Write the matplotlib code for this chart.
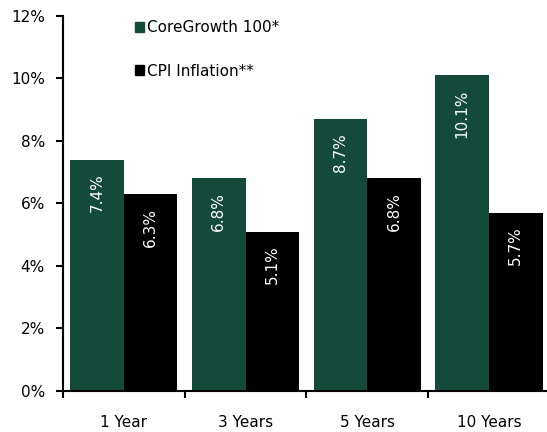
import matplotlib
matplotlib.use("Agg")
import matplotlib.pyplot as plt
from matplotlib.patches import Patch
import numpy as np

periods = ["1 Year", "3 Years", "5 Years", "10 Years"]
coregrowth = [7.4, 6.8, 8.7, 10.1]
cpi = [6.3, 5.1, 6.8, 5.7]
series_names = ["CoreGrowth 100*", "CPI Inflation**"]

green = "#134a3a"
black = "#000000"

plt.rcParams["font.family"] = "DejaVu Sans"

fig = plt.figure(figsize=(5.47, 4.32), dpi=100)
ax = fig.add_axes([0.1152, 0.095, 0.89, 0.868])

x = np.arange(len(periods))
w = 0.44
b1 = ax.bar(x - w / 2, coregrowth, w, color=green)
b2 = ax.bar(x + w / 2, cpi, w, color=black)

for bars, vals in ((b1, coregrowth), (b2, cpi)):
    for rect, v in zip(bars, vals):
        ax.annotate(f"{v:.1f}%", (rect.get_x() + rect.get_width() / 2, v),
                    xytext=(0, -10), textcoords="offset points",
                    rotation=90, ha="center", va="top",
                    color="white", fontsize=11)

ax.set_xlim(-0.5, 3.5)
ax.set_ylim(0, 12)
ax.set_yticks(np.arange(0, 13, 2))
ax.set_yticklabels([f"{t}%" for t in range(0, 13, 2)])
ax.set_xticks(x)
ax.set_xticklabels(periods)
ax.set_xticks(np.arange(-0.5, 4, 1), minor=True)
ax.tick_params(axis="x", which="major", length=0, pad=17, labelsize=11)
ax.tick_params(axis="x", which="minor", length=5, width=1.5, direction="out")
ax.tick_params(axis="y", length=5, width=1.5, direction="out", pad=8, labelsize=11)

for s in ("top", "right"):
    ax.spines[s].set_visible(False)
for s in ("left", "bottom"):
    ax.spines[s].set_linewidth(1.5)

handles = [Patch(color=green), Patch(color=black)]
ax.legend(handles, series_names, loc="upper left", bbox_to_anchor=(0.12, 1.025),
          frameon=False, handlelength=0.6, handleheight=0.6, handletextpad=0.2,
          labelspacing=1.85, fontsize=11)

fig.savefig("out.png", dpi=100)
